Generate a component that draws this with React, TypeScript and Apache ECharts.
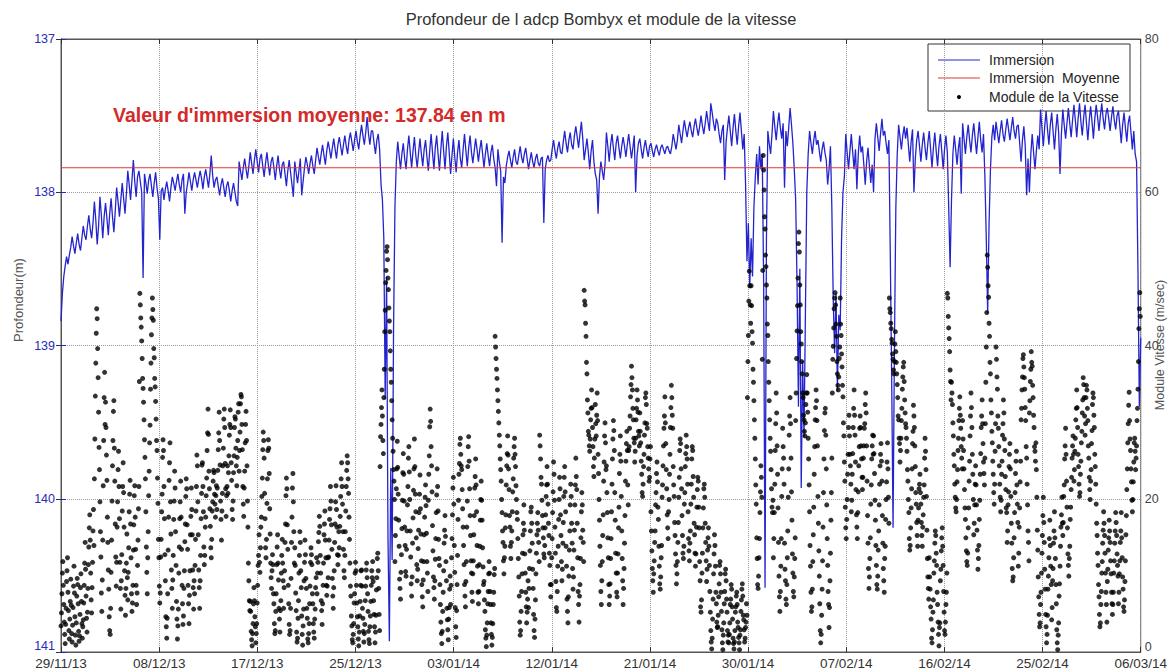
import React, { useEffect, useRef } from "react";
import * as echarts from "echarts";

// Date ticks along the bottom axis (evenly spaced over the record)
const TICK_LABELS = [
  "29/11/13", "08/12/13", "17/12/13", "25/12/13", "03/01/14", "12/01/14",
  "21/01/14", "30/01/14", "07/02/14", "16/02/14", "25/02/14", "06/03/14",
];
const SPAN_DAYS = 97; // 29/11/13 -> 06/03/14

const MEAN_IMMERSION = 137.84;

// ADCP immersion (m), one sample every 3 hours, one row per day
const IMMERSION_STEP_DAYS = 0.125;
const IMMERSION = [
  138.84, 138.66, 138.55, 138.48, 138.42, 138.47, 138.41, 138.36,
  138.29, 138.35, 138.40, 138.33, 138.27, 138.34, 138.38, 138.30,
  138.22, 138.28, 138.31, 138.22, 138.15, 138.24, 138.30, 138.20,
  138.06, 138.18, 138.34, 138.22, 138.03, 138.15, 138.30, 138.16,
  138.07, 138.17, 138.28, 138.14, 138.04, 138.16, 138.26, 138.12,
  137.97, 138.06, 138.16, 138.05, 137.94, 138.04, 138.14, 138.01,
  137.86, 137.95, 138.05, 137.92, 137.79, 137.93, 138.03, 137.90,
  137.86, 137.93, 138.00, 138.56, 137.88, 137.94, 138.01, 137.92,
  137.88, 137.96, 138.03, 137.94, 137.87, 137.97, 138.04, 138.31,
  137.99, 137.97, 138.05, 137.98, 137.93, 137.99, 138.06, 137.97,
  137.90, 137.94, 137.99, 137.93, 137.88, 137.95, 138.00, 137.92,
  137.88, 138.14, 138.00, 137.94, 137.87, 137.93, 137.99, 137.92,
  137.87, 137.92, 137.97, 137.91, 137.86, 137.91, 137.98, 137.90,
  137.85, 137.91, 137.97, 137.88, 137.76, 137.89, 137.97, 137.92,
  137.90, 137.96, 138.02, 137.95, 137.91, 137.97, 138.03, 137.96,
  137.93, 137.99, 138.06, 137.99, 137.94, 138.00, 138.06, 138.09,
  137.80, 137.86, 137.92, 137.84, 137.78, 137.85, 137.91, 137.83,
  137.74, 137.81, 137.88, 137.79, 137.72, 137.80, 137.87, 137.78,
  137.75, 137.83, 137.90, 137.81, 137.74, 137.82, 137.89, 137.80,
  137.77, 137.84, 137.92, 137.83, 137.76, 137.85, 137.91, 137.82,
  137.80, 137.88, 137.96, 137.86, 137.79, 137.87, 137.95, 138.03,
  137.80, 137.87, 137.94, 137.86, 137.78, 138.02, 137.93, 137.84,
  137.77, 137.82, 137.88, 137.81, 137.76, 137.83, 137.88, 137.79,
  137.71, 137.77, 137.82, 137.75, 137.69, 137.76, 137.82, 137.73,
  137.67, 137.72, 137.78, 137.71, 137.65, 137.72, 137.78, 137.69,
  137.64, 137.70, 137.76, 137.69, 137.63, 137.70, 137.75, 137.66,
  137.61, 137.67, 137.73, 137.66, 137.60, 137.67, 137.72, 137.63,
  137.56, 137.63, 137.69, 137.61, 137.51, 137.62, 137.69, 137.60,
  137.60, 137.68, 137.75, 137.66, 137.62, 137.72, 137.95, 138.05,
  138.30, 139.35, 138.55, 140.25, 140.93, 139.80, 140.40, 138.90,
  138.10, 137.80, 137.67, 137.76, 137.85, 137.75, 137.68, 137.78,
  137.85, 137.72, 137.63, 137.74, 137.84, 137.73, 137.64, 137.76,
  137.84, 137.74, 137.65, 137.75, 137.83, 137.72, 137.66, 137.77,
  137.86, 137.73, 137.62, 137.74, 137.85, 137.71, 137.63, 137.75,
  137.86, 137.72, 137.60, 137.73, 137.85, 137.70, 137.61, 137.74,
  137.88, 137.76, 137.65, 137.77, 137.87, 137.74, 137.66, 137.78,
  137.84, 137.72, 137.62, 137.73, 137.83, 137.71, 137.63, 137.74,
  137.81, 137.73, 137.65, 137.72, 137.80, 137.72, 137.66, 137.75,
  137.84, 137.75, 137.68, 137.76, 137.83, 137.74, 137.69, 137.78,
  137.84, 137.96, 137.72, 137.80, 137.86, 138.33, 137.90, 137.94,
  137.83, 137.77, 137.73, 137.79, 137.84, 137.77, 137.72, 137.80,
  137.82, 137.76, 137.70, 137.77, 137.81, 137.75, 137.71, 137.78,
  137.85, 137.79, 137.74, 137.80, 137.84, 137.78, 137.75, 137.81,
  137.83, 137.78, 137.77, 138.20, 137.85, 137.79, 137.76, 137.80,
  137.79, 137.72, 137.66, 137.73, 137.78, 137.71, 137.67, 137.74,
  137.75, 137.67, 137.60, 137.68, 137.74, 137.66, 137.61, 137.69,
  137.72, 137.63, 137.57, 137.64, 137.71, 137.62, 137.54, 137.65,
  137.79, 137.72, 137.65, 137.74, 137.85, 137.73, 137.66, 137.80,
  137.88, 137.92, 138.14, 137.90, 137.80, 137.86, 137.92, 137.82,
  137.61, 137.70, 137.80, 137.69, 137.62, 137.71, 137.79, 137.68,
  137.63, 137.71, 137.78, 137.70, 137.64, 137.70, 137.77, 137.69,
  137.62, 137.70, 137.78, 137.71, 137.63, 138.00, 137.76, 137.68,
  137.65, 137.72, 137.78, 137.71, 137.66, 137.72, 137.77, 137.70,
  137.68, 137.73, 137.77, 137.72, 137.69, 137.73, 137.76, 137.71,
  137.69, 137.72, 137.75, 137.71, 137.70, 137.73, 137.75, 137.70,
  137.62, 137.67, 137.72, 137.66, 137.56, 137.62, 137.68, 137.60,
  137.53, 137.59, 137.64, 137.58, 137.54, 137.60, 137.64, 137.57,
  137.52, 137.58, 137.63, 137.57, 137.50, 137.57, 137.62, 137.55,
  137.47, 137.54, 137.60, 137.42, 137.48, 137.55, 137.60, 137.52,
  137.55, 137.62, 137.68, 137.60, 137.56, 137.92, 137.67, 137.58,
  137.50, 137.60, 137.70, 137.58, 137.49, 137.60, 137.69, 137.57,
  137.48, 137.60, 137.72, 137.62, 137.95, 138.45, 138.20, 138.62,
  138.30, 138.55, 138.10, 137.90, 137.75, 137.95, 137.70, 137.85,
  137.75, 138.60, 140.58, 138.30, 137.60, 137.68, 137.75, 137.62,
  137.47, 137.57, 137.66, 137.56, 137.48, 137.58, 137.65, 137.55,
  137.97, 137.60, 137.70, 137.58, 137.45, 137.56, 137.68, 137.85,
  138.05, 138.60, 139.40, 138.50, 139.93, 139.10, 139.60, 138.80,
  138.00, 137.75, 137.60, 137.68, 137.75, 137.66, 137.60, 137.69,
  137.66, 137.73, 137.80, 137.72, 137.67, 137.74, 137.79, 137.95,
  137.85, 137.70, 138.10, 138.70, 139.05, 138.66, 139.30, 138.80,
  138.90, 138.30, 138.00, 137.90, 137.62, 137.74, 137.85, 137.73,
  137.62, 137.74, 137.85, 137.72, 137.98, 137.75, 137.63, 137.74,
  137.70, 137.82, 137.95, 137.80, 137.71, 137.83, 137.94, 137.82,
  138.00, 137.65, 137.55, 137.64, 137.73, 137.62, 137.52, 137.63,
  137.60, 137.68, 137.75, 137.66, 138.40, 139.20, 140.19, 139.00,
  138.10, 137.75, 137.56, 137.64, 137.72, 137.63, 137.57, 137.65,
  137.58, 137.69, 137.80, 137.67, 137.59, 138.00, 137.78, 137.66,
  137.60, 137.70, 137.80, 137.69, 137.61, 137.71, 137.79, 137.68,
  137.60, 137.72, 137.84, 137.71, 137.61, 137.73, 137.83, 137.70,
  137.62, 137.73, 137.85, 137.72, 137.63, 137.74, 138.10, 138.49,
  138.05, 137.75, 137.63, 137.72, 137.82, 137.71, 137.64, 138.01,
  137.55, 137.65, 137.75, 137.64, 137.56, 137.66, 137.74, 137.63,
  137.55, 137.65, 137.75, 137.64, 137.54, 137.66, 137.74, 137.62,
  137.90, 138.30, 138.79, 138.20, 137.85, 137.64, 137.56, 137.66,
  137.54, 137.61, 137.68, 137.60, 137.53, 137.62, 137.67, 137.59,
  137.52, 137.59, 137.66, 137.58, 137.51, 137.60, 137.65, 137.57,
  137.56, 137.68, 137.80, 137.66, 137.57, 137.70, 138.02, 137.78,
  138.00, 137.75, 137.62, 137.74, 137.85, 137.73, 137.63, 137.72,
  137.46, 137.58, 137.70, 137.57, 137.47, 137.59, 137.69, 137.56,
  137.48, 137.60, 137.72, 137.59, 137.49, 137.61, 137.88, 137.62,
  137.46, 137.56, 137.65, 137.55, 137.45, 137.55, 137.64, 137.53,
  137.43, 137.53, 137.64, 137.52, 137.42, 137.54, 137.63, 137.51,
  137.43, 137.55, 137.66, 137.53, 137.44, 137.54, 137.65, 137.52,
  137.43, 137.51, 137.60, 137.50, 137.42, 137.52, 137.59, 137.49,
  137.45, 137.52, 137.60, 137.51, 137.44, 137.53, 137.59, 137.50,
  137.47, 137.57, 137.68, 137.56, 137.48, 137.58, 137.67, 137.55,
  137.50, 137.61, 137.72, 137.60, 137.75, 137.80, 138.50, 139.40,
  138.95,
];

// Current speed modulus, one sample every hour, one row per day
const SPEED_STEP_DAYS = 1 / 24;
const SPEED = [
  3.4, 5.1, 7.6, 10.3, 11.8, 8.7, 6.2, 3.9, 2.3, 1.1, 3.6, 5.7, 9.2, 10.6, 12.3, 7.8, 5.4, 2.8, 1.7, 4.3, 6.6, 9.5, 6.1, 2.4,
  1.3, 3.5, 5.8, 8.6, 11.2, 7.7, 4.6, 2.2, 0.9, 3.8, 7.3, 9.6, 8.8, 6.3, 2.7, 1.4, 2.1, 4.9, 8.4, 10.2, 6.6, 3.7, 1.8, 3.3,
  4.2, 6.4, 8.7, 11.6, 14.3, 10.8, 7.3, 4.4, 2.6, 5.2, 8.3, 11.4, 13.7, 16.2, 17.9, 14.6, 10.3, 6.8, 5.1, 8.4, 11.7, 15.8, 18.6, 13.9,
  22.6, 27.8, 33.4, 37.7, 41.6, 44.8, 43.5, 39.6, 35.8, 31.3, 26.7, 23.8, 19.6, 15.7, 12.4, 7.7, 5.3, 9.4, 14.6, 21.7, 27.6, 33.2, 36.5, 29.7,
  32.6, 29.3, 25.7, 22.4, 17.6, 14.3, 10.7, 8.2, 4.6, 2.8, 2.3, 5.7, 10.4, 14.6, 19.7, 24.3, 27.6, 31.4, 32.8, 26.6, 22.3, 16.7, 12.4, 8.6,
  11.7, 16.3, 19.6, 23.8, 26.2, 21.6, 17.4, 11.7, 8.3, 5.6, 9.3, 12.7, 18.4, 21.6, 24.7, 20.8, 16.3, 10.6, 7.4, 4.8, 8.3, 11.6, 15.4, 9.7,
  6.8, 10.4, 13.6, 18.3, 20.6, 22.4, 16.7, 12.3, 7.6, 5.3, 6.4, 8.7, 13.3, 16.6, 20.4, 21.7, 17.6, 13.4, 8.7, 6.2, 7.7, 11.3, 14.6, 18.7,
  21.6, 35.3, 46.8, 45.3, 43.6, 42.4, 40.6, 38.3, 35.7, 34.4, 32.6, 30.3, 27.7, 25.4, 22.6, 18.3, 13.7, 10.4, 7.6, 12.3, 15.7, 20.4, 23.6, 27.3,
  29.6, 34.3, 37.7, 41.4, 43.6, 46.2, 44.7, 43.3, 39.6, 38.4, 35.7, 34.6, 32.7, 30.4, 27.6, 26.3, 22.7, 19.4, 14.7, 12.3, 8.6, 6.4, 7.7, 12.4,
  14.7, 18.3, 20.6, 25.4, 27.7, 26.3, 21.6, 17.4, 12.7, 9.3, 4.6, 3.3, 1.8, 4.4, 7.6, 13.3, 17.6, 22.4, 24.7, 27.3, 19.6, 15.4, 10.7, 8.3,
  5.7, 9.4, 12.6, 17.3, 19.7, 23.6, 21.4, 15.7, 11.3, 6.6, 4.3, 1.7, 3.4, 5.6, 10.3, 13.7, 17.4, 19.6, 22.3, 17.6, 13.4, 8.7, 6.3, 3.6,
  4.7, 8.3, 10.6, 14.4, 16.7, 20.3, 22.6, 21.3, 16.6, 13.4, 8.7, 6.3, 3.7, 7.4, 10.6, 15.3, 17.7, 21.4, 18.6, 15.3, 10.7, 8.4, 5.6, 9.3,
  7.6, 11.3, 14.7, 18.4, 21.6, 25.7, 24.3, 19.6, 15.3, 10.7, 8.4, 5.7, 9.3, 12.6, 17.4, 20.7, 24.4, 24.7, 21.6, 18.3, 13.7, 11.4, 12.6, 16.3,
  17.6, 20.4, 22.7, 26.3, 28.6, 31.7, 28.4, 23.6, 21.3, 18.7, 16.4, 13.6, 12.3, 14.7, 18.4, 19.6, 22.3, 23.7, 23.4, 20.6, 19.3, 17.6, 20.4, 21.7,
  18.6, 21.4, 23.7, 26.4, 28.6, 31.3, 27.6, 24.4, 19.7, 17.3, 14.6, 18.4, 20.7, 24.3, 26.6, 30.4, 31.7, 29.3, 24.6, 21.3, 17.7, 20.4, 21.6, 24.3,
  20.7, 23.4, 25.6, 28.3, 29.7, 31.6, 29.3, 24.7, 22.4, 18.6, 17.3, 19.7, 23.4, 25.6, 29.3, 30.7, 30.4, 26.6, 24.3, 21.7, 25.4, 27.6, 31.3, 32.4,
  23.6, 26.3, 28.7, 32.4, 33.6, 33.3, 29.7, 26.4, 21.6, 19.3, 17.7, 21.4, 23.6, 27.3, 29.7, 31.4, 27.6, 24.3, 19.7, 16.3, 11.6, 9.3, 6.7, 5.4,
  6.6, 5.3, 2.7, 1.6, 0.8, 2.4, 3.7, 6.3, 8.4, 6.7, 4.6, 3.3, 1.2, 2.4, 3.7, 6.4, 8.7, 11.3, 12.6, 15.3, 11.7, 10.4, 13.6, 16.3,
  17.6, 20.3, 22.7, 26.4, 28.7, 27.6, 25.3, 20.7, 17.4, 13.6, 12.3, 14.7, 19.4, 22.6, 26.3, 27.7, 26.6, 23.3, 18.7, 15.4, 11.6, 9.7, 8.3, 10.6,
  12.7, 11.4, 7.6, 6.3, 3.7, 2.4, 2.8, 5.3, 7.6, 11.4, 13.7, 15.3, 11.6, 9.4, 5.7, 4.3, 2.6, 5.4, 6.7, 10.3, 12.6, 14.7, 11.6, 9.3,
  5.7, 8.4, 10.6, 14.3, 16.7, 20.4, 22.7, 21.3, 16.6, 13.4, 8.7, 6.3, 3.6, 2.3, 2.8, 5.7, 9.6, 14.3, 17.6, 21.4, 23.3, 19.6, 15.7, 11.6,
  13.6, 11.3, 7.7, 5.4, 2.6, 1.3, 1.8, 4.4, 6.7, 10.3, 12.6, 15.7, 14.3, 10.6, 8.4, 4.7, 2.3, 0.9, 3.4, 5.6, 9.3, 11.7, 14.6, 12.7,
  9.6, 8.3, 5.7, 4.4, 1.7, 1.2, 2.4, 3.7, 6.3, 8.6, 11.7, 13.6, 12.7, 11.4, 7.6, 6.3, 3.7, 2.6, 1.8, 4.3, 5.6, 8.4, 9.7, 12.3,
  7.6, 10.3, 11.7, 14.4, 15.6, 17.7, 16.4, 12.6, 10.3, 6.7, 5.4, 3.6, 6.3, 8.7, 11.6, 15.3, 16.7, 18.4, 14.6, 12.3, 8.7, 7.4, 8.6, 12.3,
  9.7, 12.4, 14.6, 17.3, 18.7, 21.6, 19.7, 16.6, 13.4, 9.6, 7.3, 5.7, 8.4, 10.6, 14.3, 16.7, 19.6, 21.7, 18.6, 16.3, 12.7, 11.4, 12.6, 15.7,
  13.6, 16.4, 17.7, 20.3, 22.6, 24.7, 21.6, 19.3, 15.7, 13.4, 10.6, 9.7, 12.6, 15.7, 18.4, 21.6, 23.7, 25.6, 24.7, 22.6, 20.7, 17.6, 14.7, 11.6,
  8.6, 7.3, 4.7, 3.4, 1.6, 1.2, 2.3, 3.7, 6.4, 7.6, 10.3, 11.7, 10.6, 8.7, 6.4, 4.6, 3.3, 1.7, 0.8, 2.6, 4.7, 6.6, 8.7, 10.6,
  10.7, 8.6, 5.7, 4.4, 2.7, 1.3, 2.4, 3.6, 6.7, 8.6, 10.7, 11.6, 9.7, 7.6, 5.3, 2.7, 1.6, 1.1, 3.3, 4.7, 6.6, 8.7, 10.6, 9.7,
  11.8, 9.2, 6.7, 4.9, 3.3, 1.2, 2.6, 4.8, 8.1, 9.7, 12.2, 12.9, 10.6, 8.3, 4.9, 2.8, 24.2, 28.1, 29.7, 31.9, 34.2, 30.8, 27.6, 25.9,
  33.2, 36.9, 41.8, 44.6, 48.2, 49.8, 52.3, 52.9, 51.2, 48.8, 47.3, 44.9, 43.2, 41.8, 39.3, 36.9, 35.2, 32.8, 30.3, 27.9, 26.2, 23.8, 22.3, 19.9,
  11.8, 15.2, 17.4, 21.3, 23.9, 27.5, 24.1, 20.6, 17.2, 13.8, 9.5, 8.3, 6.9, 10.4, 12.7, 16.1, 19.8, 23.4, 25.9, 23.2, 19.7, 16.3, 13.9, 10.5,
  9.9, 13.4, 15.8, 19.2, 21.6, 25.3, 26.8, 23.5, 19.9, 15.8, 12.4, 8.9, 7.3, 9.8, 14.2, 17.5, 21.1, 23.9, 27.8, 24.2, 20.6, 18.3, 14.9, 11.4,
  9.3, 10.8, 13.5, 15.9, 18.2, 20.6, 23.1, 18.7, 15.4, 11.9, 8.8, 7.2, 5.9, 9.4, 11.8, 15.3, 17.6, 20.2, 21.8, 19.1, 15.5, 11.8, 10.3, 7.9,
  19.8, 23.2, 25.6, 29.4, 31.7, 30.1, 26.8, 24.3, 20.9, 16.5, 13.2, 9.8, 8.4, 6.9, 9.3, 12.1, 14.8, 18.2, 20.5, 23.9, 21.6, 18.4, 14.7, 12.2,
  11.3, 8.8, 6.2, 3.9, 2.4, 1.1, 2.7, 5.3, 7.8, 10.6, 14.2, 15.9, 17.8, 15.1, 11.8, 9.3, 5.7, 4.2, 2.9, 1.6, 4.3, 5.8, 8.2, 9.9,
  6.2, 8.7, 12.3, 14.8, 17.9, 21.4, 22.8, 19.3, 13.9, 10.4, 5.8, 3.3, 1.9, 5.4, 8.8, 12.6, 17.3, 19.8, 23.2, 24.6, 27.1, 27.9, 25.8, 24.3,
  23.8, 21.2, 18.7, 16.3, 13.9, 11.4, 8.8, 7.3, 5.9, 9.2, 11.8, 16.3, 19.7, 24.2, 26.8, 28.1, 24.9, 21.3, 17.8, 15.2, 11.9, 10.3, 7.8, 6.6,
  10.2, 11.9, 15.3, 17.8, 21.4, 22.9, 25.2, 21.8, 18.3, 13.9, 11.2, 7.8, 6.3, 7.9, 11.4, 13.8, 17.2, 19.9, 22.3, 19.8, 17.2, 13.6, 11.1, 8.8,
  9.2, 6.8, 5.3, 2.9, 1.8, 0.7, 2.2, 3.8, 6.3, 7.9, 10.2, 11.8, 10.3, 7.9, 6.2, 3.8, 2.3, 0.9, 1.9, 3.7, 6.2, 7.8, 10.1, 10.9,
  41.2, 39.8, 38.3, 36.9, 35.7, 34.2, 32.8, 31.4, 29.9, 28.3, 26.9, 25.2, 23.8, 22.3, 19.9, 18.2, 15.8, 14.3, 11.9, 10.2, 12.3, 13.8, 16.2, 17.9,
  21.8, 24.3, 25.9, 28.2, 25.7, 23.9, 21.2, 17.8, 16.3, 13.8, 12.2, 14.3, 15.8, 18.3, 20.9, 22.6, 25.3, 26.8, 27.9, 25.8, 24.2, 21.7, 19.9, 18.2,
  17.3, 14.8, 12.2, 9.8, 7.3, 3.9, 2.2, 2.8, 5.3, 7.9, 10.2, 12.9, 15.3, 16.8, 19.2, 15.9, 12.8, 10.3, 7.8, 5.9, 3.8, 5.2, 6.9, 9.3,
  5.8, 8.3, 10.9, 13.2, 15.8, 18.3, 18.9, 16.8, 14.2, 10.8, 8.3, 4.9, 2.8, 1.9, 4.3, 6.8, 10.2, 12.9, 15.3, 16.8, 18.2, 15.9, 14.3, 11.8,
  28.3, 26.9, 25.2, 22.8, 21.9, 19.8, 17.8, 16.2, 14.9, 12.8, 12.3, 13.9, 16.2, 17.9, 20.3, 21.8, 24.2, 21.9, 19.3, 16.8, 15.2, 12.9, 11.3, 8.8,
  7.2, 8.8, 12.3, 14.8, 18.2, 20.9, 24.8, 23.2, 19.8, 16.3, 12.9, 9.2, 5.8, 5.3, 7.9, 11.2, 13.8, 17.3, 19.9, 22.8, 21.3, 17.9, 15.2, 11.8,
  9.3, 10.8, 14.2, 16.9, 20.3, 22.8, 24.2, 20.9, 18.3, 13.8, 11.2, 6.9, 5.3, 3.8, 7.2, 9.9, 13.3, 15.8, 19.2, 21.9, 20.3, 16.8, 14.2, 10.9,
  8.2, 9.8, 13.3, 15.9, 19.2, 21.8, 25.3, 22.9, 21.2, 16.8, 12.3, 7.9, 6.2, 3.9, 7.3, 8.8, 12.2, 14.9, 18.3, 20.8, 19.2, 15.9, 14.3, 11.8,
  47.2, 45.8, 45.3, 42.9, 41.2, 37.8, 36.3, 32.9, 31.2, 28.8, 28.3, 26.9, 26.2, 27.8, 30.3, 31.8, 34.2, 31.9, 29.3, 26.8, 24.2, 22.9, 25.3, 27.8,
  32.3, 29.8, 28.2, 30.9, 33.8, 30.2, 25.8, 23.3, 19.9, 17.2, 13.8, 11.3, 7.9, 6.2, 9.3, 11.8, 15.2, 17.9, 22.3, 24.8, 28.2, 29.9, 27.3, 23.8,
  24.3, 20.8, 18.2, 14.9, 12.3, 8.8, 6.2, 7.3, 8.9, 12.2, 14.8, 18.3, 21.9, 25.2, 27.8, 30.2, 28.9, 26.3, 20.8, 17.2, 12.9, 10.3, 7.8, 7.2,
  10.3, 12.8, 16.2, 18.9, 23.3, 25.8, 28.2, 24.9, 20.3, 15.8, 12.2, 9.3, 6.2, 8.3, 10.9, 14.2, 17.8, 22.3, 24.9, 27.2, 28.8, 26.3, 21.8, 19.2,
  26.3, 26.8, 29.2, 30.8, 33.3, 34.9, 37.3, 35.8, 34.2, 31.8, 30.3, 27.9, 27.3, 24.8, 26.2, 27.9, 30.3, 31.8, 34.2, 32.9, 31.3, 28.8, 28.2, 26.9,
  31.2, 28.8, 27.3, 24.9, 23.2, 20.8, 20.3, 21.9, 24.2, 25.8, 28.3, 29.9, 33.2, 33.8, 32.3, 29.8, 29.2, 26.8, 25.3, 23.9, 22.3, 22.8, 25.2, 26.8,
  18.3, 15.8, 13.2, 10.9, 9.3, 7.8, 10.2, 11.9, 14.3, 15.8, 19.2, 20.8, 23.3, 24.8, 22.2, 18.9, 17.3, 13.8, 11.2, 8.9, 8.2, 9.8, 12.3, 13.9,
  20.2, 21.8, 24.3, 26.9, 29.2, 30.8, 33.3, 29.9, 27.2, 23.8, 21.3, 17.9, 16.2, 14.8, 18.3, 19.9, 23.2, 25.8, 29.3, 31.9, 34.8, 33.2, 30.9, 29.2,
  24.2, 21.8, 20.3, 16.9, 15.2, 12.8, 11.3, 8.9, 10.2, 11.8, 14.3, 16.9, 20.2, 22.8, 26.3, 27.8, 27.2, 23.9, 21.3, 17.8, 15.2, 12.9, 12.2, 13.8,
  19.3, 20.8, 24.2, 25.9, 28.3, 26.8, 25.2, 21.9, 18.3, 14.8, 13.2, 11.9, 14.2, 15.8, 19.3, 21.9, 25.2, 26.8, 26.3, 22.9, 20.2, 16.8, 15.3, 12.9,
  11.2, 12.8, 16.3, 18.9, 21.2, 22.8, 22.3, 18.9, 16.2, 11.8, 9.3, 5.9, 5.2, 6.8, 10.3, 12.9, 16.2, 18.8, 21.3, 21.9, 20.2, 16.8, 14.3, 11.9,
  9.2, 10.8, 13.3, 14.9, 16.2, 13.8, 11.3, 7.9, 5.2, 2.8, 1.3, 0.4, 1.8, 4.3, 6.9, 10.2, 12.8, 15.3, 13.9, 11.2, 7.8, 6.3, 3.9, 3.2,
  3.3, 4.8, 7.2, 8.9, 11.3, 11.8, 10.2, 7.8, 5.3, 2.9, 1.2, 0.3, 2.2, 3.8, 6.3, 7.9, 10.2, 10.8, 9.3, 6.9, 5.2, 2.8, 1.3, 2.2,
  1.2, 2.3, 3.8, 6.2, 6.9, 8.8, 8.2, 5.9, 4.3, 1.8, 1.1, 0.4, 1.3, 2.8, 5.2, 5.9, 7.3, 7.8, 6.2, 3.9, 3.2, 1.9, 1.2, 0.3,
  2.2, 2.9, 5.3, 6.8, 8.2, 8.9, 7.3, 4.8, 4.2, 2.9, 1.3, 1.8, 3.2, 3.9, 6.3, 4.8, 33.2, 37.9, 41.3, 45.8, 49.7, 47.8, 45.3, 42.9,
  47.8, 45.2, 41.8, 40.3, 36.9, 35.2, 32.8, 30.3, 27.9, 25.2, 21.8, 19.3, 14.9, 12.2, 8.8, 8.3, 9.9, 12.3, 14.8, 18.2, 20.9, 24.3, 22.8, 20.2,
  38.2, 49.8, 64.8, 62.9, 60.3, 56.8, 55.2, 51.8, 50.3, 47.9, 46.2, 42.8, 41.3, 37.9, 35.2, 32.8, 30.3, 27.9, 26.2, 23.8, 21.3, 18.9, 18.2, 19.8,
  12.3, 14.8, 18.2, 21.9, 26.3, 29.8, 33.8, 31.2, 26.9, 23.2, 18.8, 14.3, 9.9, 7.2, 5.3, 7.9, 11.2, 14.8, 20.3, 23.9, 29.2, 26.8, 25.3, 21.9,
  14.2, 10.8, 9.3, 6.9, 6.2, 8.8, 12.3, 15.8, 20.2, 23.9, 28.3, 30.8, 33.2, 29.8, 25.3, 20.9, 17.2, 12.8, 10.3, 7.9, 7.2, 9.8, 12.2, 14.9,
  30.2, 33.8, 38.3, 41.9, 45.2, 48.8, 53.3, 54.8, 52.2, 47.9, 45.3, 41.8, 40.2, 37.9, 36.3, 33.8, 33.2, 30.9, 30.3, 28.8, 28.2, 29.9, 32.3, 33.8,
  36.2, 33.8, 31.3, 27.9, 25.2, 21.8, 18.3, 13.9, 11.2, 7.8, 5.3, 5.9, 8.2, 11.8, 15.3, 18.9, 23.2, 26.8, 30.3, 31.9, 34.2, 32.8, 30.2, 26.9,
  20.3, 16.8, 13.2, 9.9, 6.3, 2.8, 1.2, 2.3, 4.8, 8.2, 11.9, 16.3, 20.8, 25.2, 28.9, 31.2, 31.8, 28.3, 23.9, 19.2, 14.8, 11.3, 7.9, 6.2,
  3.2, 5.8, 9.3, 12.9, 17.2, 20.8, 25.3, 33.8, 38.2, 39.9, 42.3, 44.8, 46.2, 46.9, 45.3, 42.8, 41.2, 37.9, 36.3, 34.8, 34.2, 35.9, 38.3, 39.8,
  46.2, 42.8, 41.3, 38.9, 37.2, 34.8, 33.3, 29.9, 28.2, 24.8, 22.3, 18.9, 16.2, 14.8, 17.3, 19.9, 23.2, 25.8, 29.3, 30.9, 28.2, 25.8, 24.3, 21.9,
  18.3, 19.8, 23.2, 25.9, 29.3, 31.8, 34.2, 30.9, 28.3, 24.8, 21.2, 17.9, 16.3, 14.8, 18.2, 20.9, 24.3, 26.8, 29.2, 30.8, 29.3, 26.9, 25.2, 22.8,
  21.2, 22.8, 25.3, 26.9, 29.2, 29.8, 32.3, 33.8, 31.2, 26.9, 22.3, 17.8, 14.2, 10.9, 8.3, 9.8, 12.2, 14.9, 19.3, 21.8, 25.2, 26.9, 28.3, 25.8,
  28.2, 25.9, 23.3, 19.8, 17.2, 13.9, 11.3, 8.8, 8.2, 9.9, 13.3, 15.8, 19.2, 21.9, 24.3, 25.8, 27.2, 24.9, 22.3, 17.8, 14.2, 10.9, 9.3, 7.8,
  12.2, 13.8, 17.3, 19.9, 22.2, 24.8, 27.3, 23.9, 20.2, 16.8, 46.2, 44.8, 44.3, 42.9, 42.2, 40.8, 40.3, 38.9, 38.2, 36.8, 36.3, 37.9, 40.2, 41.8,
  39.2, 37.8, 36.3, 34.9, 33.2, 30.8, 30.3, 27.9, 27.2, 24.8, 26.3, 27.9, 30.2, 31.8, 34.3, 35.9, 37.2, 37.8, 35.3, 32.9, 31.2, 29.8, 29.3, 27.9,
  26.2, 23.8, 22.3, 19.9, 18.2, 14.8, 13.3, 13.9, 16.2, 18.8, 21.3, 23.9, 27.2, 28.8, 32.2, 30.8, 29.3, 26.9, 24.2, 20.8, 19.3, 16.9, 15.2, 13.8,
  17.2, 18.8, 21.3, 21.9, 23.2, 20.8, 19.3, 16.9, 15.2, 13.8, 16.3, 17.9, 20.2, 21.8, 25.3, 27.9, 26.2, 23.8, 20.3, 15.9, 12.2, 9.8, 8.3, 6.9,
  12.3, 9.8, 8.2, 5.9, 4.3, 1.8, 1.2, 2.9, 5.2, 6.8, 10.3, 11.9, 14.2, 15.8, 15.2, 12.9, 11.3, 7.8, 6.2, 3.9, 2.3, 0.8, 3.2, 3.8,
  9.3, 10.8, 13.2, 14.9, 16.2, 13.8, 11.3, 7.9, 5.2, 2.8, 2.3, 3.9, 6.2, 7.8, 10.3, 46.8, 46.2, 43.8, 42.3, 40.9, 39.2, 36.8, 35.3, 32.9,
  35.2, 33.8, 32.3, 29.9, 28.2, 25.8, 24.3, 21.9, 20.2, 18.8, 18.3, 19.9, 22.2, 23.8, 26.3, 27.9, 30.2, 31.8, 33.3, 30.9, 29.2, 26.8, 25.3, 23.9,
  30.2, 27.8, 26.3, 23.9, 21.2, 18.8, 17.3, 14.9, 13.2, 11.8, 11.3, 12.9, 16.2, 18.8, 22.3, 24.9, 28.2, 30.8, 33.8, 31.9, 29.3, 25.8, 23.2, 19.9,
  15.3, 16.8, 19.2, 21.9, 24.3, 21.8, 19.2, 15.9, 13.3, 10.8, 12.2, 13.9, 17.3, 19.8, 23.2, 25.9, 29.3, 30.8, 32.9, 29.8, 27.2, 24.8, 23.3, 21.8,
  25.3, 29.8, 35.2, 39.8, 44.3, 51.8, 50.2, 47.8, 46.3, 42.9, 41.2, 37.8, 36.3, 32.9, 31.2, 28.8, 27.3, 24.9, 23.2, 20.8, 19.3, 21.9, 26.2, 29.8,
  39.8, 38.2, 35.9, 34.3, 30.8, 29.2, 26.8, 24.3, 21.9, 20.2, 18.3, 19.8, 23.2, 24.9, 28.3, 29.8, 32.9, 31.2, 27.8, 26.3, 22.9, 21.2, 18.8, 18.2,
  14.3, 15.8, 19.2, 20.9, 24.2, 25.8, 27.2, 23.9, 20.3, 16.8, 14.2, 10.9, 9.3, 9.8, 12.3, 14.9, 18.2, 20.8, 23.3, 24.9, 26.2, 21.8, 19.3, 16.9,
  11.2, 12.9, 16.3, 18.8, 22.2, 24.9, 30.3, 31.8, 34.2, 35.9, 38.3, 38.8, 37.2, 35.8, 34.3, 31.9, 30.2, 26.8, 25.3, 21.9, 19.2, 15.8, 14.3, 11.9,
  31.2, 32.8, 35.3, 36.9, 39.2, 37.8, 37.3, 34.8, 33.2, 30.9, 29.3, 26.8, 26.2, 24.9, 27.3, 23.8, 20.2, 15.9, 13.3, 9.8, 7.2, 4.9, 3.3, 3.8,
  6.2, 7.8, 10.3, 12.9, 15.2, 17.8, 20.2, 16.9, 14.3, 10.8, 8.2, 4.9, 3.3, 1.2, 2.3, 4.8, 8.2, 9.9, 12.3, 14.8, 17.2, 13.9, 11.2, 8.8,
  4.2, 5.8, 9.3, 10.9, 14.2, 15.8, 18.3, 14.9, 12.2, 8.8, 6.3, 2.9, 1.2, 0.3, 2.2, 3.8, 7.3, 8.9, 11.2, 13.8, 16.3, 17.9, 20.2, 16.8,
  15.2, 16.9, 20.3, 21.8, 25.2, 26.9, 29.2, 25.8, 22.3, 18.9, 16.2, 12.8, 11.3, 9.9, 12.2, 13.8, 17.3, 18.9, 21.2, 22.8, 25.3, 26.9, 28.2, 25.8,
  22.3, 23.8, 26.2, 27.9, 30.3, 31.8, 34.2, 31.9, 29.3, 25.8, 24.2, 21.9, 20.3, 20.8, 23.2, 24.9, 27.3, 28.8, 31.2, 32.9, 35.8, 34.9, 33.2, 30.8,
  28.3, 29.8, 33.2, 34.8, 34.2, 31.8, 30.2, 26.9, 25.3, 22.8, 21.2, 19.9, 22.3, 23.8, 27.2, 28.9, 32.3, 33.8, 33.2, 30.9, 29.3, 25.8, 24.2, 21.9,
  19.3, 16.8, 15.2, 12.9, 11.3, 8.8, 7.2, 4.9, 3.3, 3.8, 6.2, 7.9, 10.3, 11.8, 14.2, 15.9, 18.3, 16.8, 15.2, 12.9, 10.3, 7.8, 6.2, 3.9,
  9.2, 10.8, 13.3, 14.9, 17.2, 15.8, 14.3, 11.9, 10.2, 7.8, 6.3, 4.9, 6.2, 7.8, 10.3, 11.9, 14.2, 15.8, 18.2, 16.9, 15.2, 12.8, 11.3, 9.9,
  6.3, 7.8, 10.2, 11.9, 14.3, 15.8, 18.2, 14.9, 12.3, 9.8, 8.2, 5.9, 5.3, 6.8, 9.2, 11.9, 15.3, 17.8, 21.2, 23.9, 27.3, 29.8, 32.2, 33.9,
  30.2, 27.8, 26.3, 23.9, 22.2, 19.8, 18.3, 19.9, 22.2, 24.8, 27.3, 27.9, 26.2, 23.8, 25.3, 26.9, 30.2, 31.8, 34.3, 37.9, 42.2, 44.8, 46.9, 43.8,
];

const FONT = "'Liberation Sans', Arial, Helvetica, sans-serif";
const BLUE = "#2424cf";
const RED = "#dc3b33";

// Position on the date axis, in tick units (0 .. 11)
const toTick = (day: number) => (day * (TICK_LABELS.length - 1)) / SPAN_DAYS;

export default function App() {
  const ref = useRef<HTMLDivElement>(null);

  useEffect(() => {
    if (!ref.current) return;
    const chart = echarts.init(ref.current, undefined, { renderer: "svg" });

    const immersionData = IMMERSION.map((v, i) => [toTick(i * IMMERSION_STEP_DAYS), v]);
    const speedData = SPEED.map((v, i) => [toTick(i * SPEED_STEP_DAYS), v]);
    const lastTick = TICK_LABELS.length - 1;

    const legendX = 928;
    const legendY = 44;
    const legendFont = `14px ${FONT}`;

    chart.setOption({
      animation: false,
      backgroundColor: "#ffffff",
      textStyle: { fontFamily: FONT },
      grid: {
        left: 61,
        right: 29,
        top: 39,
        bottom: 19,
        show: true,
        borderColor: "#555555",
        borderWidth: 1,
        backgroundColor: "transparent",
      },
      xAxis: [
        {
          type: "value",
          position: "bottom",
          min: 0,
          max: lastTick,
          interval: 1,
          axisLine: { show: true, lineStyle: { color: "#555555", width: 1 } },
          axisTick: { show: true, inside: true, length: 5, lineStyle: { color: "#333333" } },
          axisLabel: {
            color: "#333333",
            fontSize: 13.5,
            fontFamily: FONT,
            margin: 4,
            formatter: (v: number) => TICK_LABELS[Math.round(v)] ?? "",
          },
          splitLine: { show: true, lineStyle: { color: "#9a9a9a", type: "dotted", width: 1 } },
        },
        {
          type: "value",
          position: "top",
          min: 0,
          max: lastTick,
          interval: 1,
          axisLine: { show: true, lineStyle: { color: "#555555", width: 1 } },
          axisTick: { show: true, inside: true, length: 5, lineStyle: { color: "#333333" } },
          axisLabel: { show: false },
          splitLine: { show: false },
        },
      ],
      yAxis: [
        {
          type: "value",
          position: "left",
          inverse: true,
          min: 137,
          max: 141,
          interval: 1,
          axisLine: { show: true, lineStyle: { color: BLUE, width: 1 } },
          axisTick: { show: true, inside: true, length: 5, lineStyle: { color: BLUE } },
          axisLabel: {
            color: "#2a2ab4",
            fontSize: 12.5,
            fontFamily: FONT,
            margin: 6,
            formatter: (v: number) => (v === 141 ? `{lift|${v}}` : `${v}`),
            rich: {
              lift: { color: "#2a2ab4", fontSize: 12.5, fontFamily: FONT, padding: [0, 0, 12, 0] },
            },
          },
          splitLine: { show: true, lineStyle: { color: "#9a9a9a", type: "dotted", width: 1 } },
        },
        {
          type: "value",
          position: "right",
          min: 0,
          max: 80,
          interval: 20,
          axisLine: { show: true, lineStyle: { color: "#555555", width: 1 } },
          axisTick: { show: true, inside: true, length: 5, lineStyle: { color: "#333333" } },
          axisLabel: {
            color: "#444444",
            fontSize: 12.5,
            fontFamily: FONT,
            margin: 4,
            formatter: (v: number) => (v === 0 ? `{lift|${v}}` : `${v}`),
            rich: {
              lift: { color: "#444444", fontSize: 12.5, fontFamily: FONT, padding: [0, 0, 10, 0] },
            },
          },
          splitLine: { show: false },
        },
      ],
      series: [
        {
          name: "Immersion",
          type: "line",
          xAxisIndex: 0,
          yAxisIndex: 0,
          data: immersionData,
          showSymbol: false,
          symbol: "none",
          lineStyle: { color: BLUE, width: 1.3 },
          z: 2,
        },
        {
          name: "Immersion  Moyenne",
          type: "line",
          xAxisIndex: 0,
          yAxisIndex: 0,
          data: [
            [0, MEAN_IMMERSION],
            [lastTick, MEAN_IMMERSION],
          ],
          showSymbol: false,
          symbol: "none",
          lineStyle: { color: RED, width: 1.2 },
          z: 3,
        },
        {
          name: "Module de la Vitesse",
          type: "scatter",
          xAxisIndex: 0,
          yAxisIndex: 1,
          data: speedData,
          symbol: "circle",
          symbolSize: 5,
          itemStyle: { color: "#000000" },
          z: 4,
        },
      ],
      graphic: [
        {
          type: "text",
          x: 601,
          y: 19,
          style: {
            text: "Profondeur de l adcp Bombyx et module de la vitesse",
            fill: "#333333",
            font: `16.5px ${FONT}`,
            align: "center",
            verticalAlign: "middle",
          },
        },
        {
          type: "text",
          x: 113,
          y: 115,
          z: 10,
          style: {
            text: `Valeur d'immersion moyenne: ${MEAN_IMMERSION.toFixed(2)} en m`,
            fill: "#d42a2a",
            font: `bold 19.5px ${FONT}`,
            verticalAlign: "middle",
          },
        },
        {
          type: "text",
          x: 18,
          y: 300,
          rotation: Math.PI / 2,
          style: {
            text: "Profondeur(m)",
            fill: "#555555",
            font: `13px ${FONT}`,
            align: "center",
            verticalAlign: "middle",
          },
        },
        {
          type: "text",
          x: 1160,
          y: 345,
          rotation: Math.PI / 2,
          style: {
            text: "Module Vitesse (m/sec)",
            fill: "#555555",
            font: `12.5px ${FONT}`,
            align: "center",
            verticalAlign: "middle",
          },
        },
        {
          type: "group",
          x: legendX,
          y: legendY,
          z: 20,
          children: [
            {
              type: "rect",
              shape: { x: 0, y: 0, width: 202, height: 67 },
              style: { fill: "#ffffff", stroke: "#333333", lineWidth: 1 },
            },
            {
              type: "line",
              shape: { x1: 10, y1: 16, x2: 52, y2: 16 },
              style: { stroke: BLUE, lineWidth: 1.2 },
            },
            {
              type: "text",
              x: 61,
              y: 16,
              style: { text: "Immersion", fill: "#222222", font: legendFont, verticalAlign: "middle" },
            },
            {
              type: "line",
              shape: { x1: 10, y1: 34, x2: 52, y2: 34 },
              style: { stroke: RED, lineWidth: 1.2 },
            },
            {
              type: "text",
              x: 61,
              y: 34,
              style: {
                text: "Immersion  Moyenne",
                fill: "#222222",
                font: legendFont,
                verticalAlign: "middle",
              },
            },
            {
              type: "circle",
              shape: { cx: 31, cy: 53, r: 2 },
              style: { fill: "#000000" },
            },
            {
              type: "text",
              x: 61,
              y: 53,
              style: {
                text: "Module de la Vitesse",
                fill: "#222222",
                font: legendFont,
                verticalAlign: "middle",
              },
            },
          ],
        },
      ],
    });

    return () => chart.dispose();
  }, []);

  return (
    <div
      ref={ref}
      style={{ position: "fixed", left: 0, top: 0, width: 1170, height: 671, background: "#ffffff" }}
    />
  );
}
